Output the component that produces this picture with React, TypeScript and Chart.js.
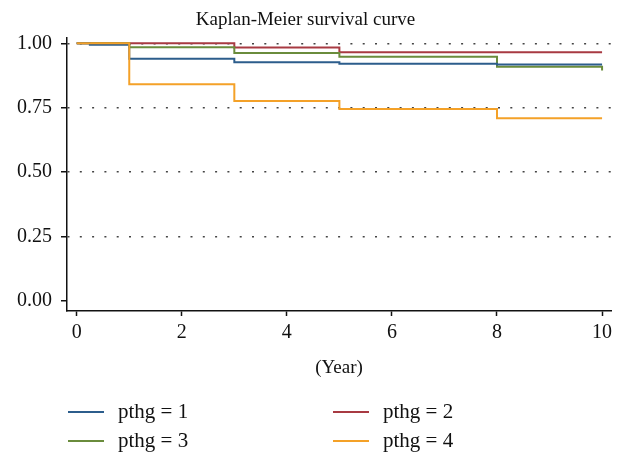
import React, { useEffect, useRef } from 'react';
import { Chart, registerables } from 'chart.js';

Chart.register(...registerables);

const TITLE = 'Kaplan-Meier survival curve';
const X_LABEL = '(Year)';
const X_TICKS = [0, 2, 4, 6, 8, 10];
const Y_TICKS = [0, 0.25, 0.5, 0.75, 1];
const Y_TICK_LABELS = ['0.00', '0.25', '0.50', '0.75', '1.00'];
const SERIES_LABELS = ['pthg = 1', 'pthg = 2', 'pthg = 3', 'pthg = 4'];
const SERIES_COLORS = ['#2c5d8c', '#a83a42', '#6a8c3c', '#f4a128'];

const PTHG1_T = [0, 0.25, 1, 3, 5, 8, 10];
const PTHG1_S = [1, 0.994, 0.94, 0.926, 0.921, 0.918, 0.918];
const PTHG2_T = [0, 3, 5, 10];
const PTHG2_S = [1, 0.984, 0.965, 0.965];
const PTHG3_T = [0, 1, 3, 5, 8, 10];
const PTHG3_S = [1, 0.985, 0.962, 0.948, 0.909, 0.894];
const PTHG4_T = [0, 1, 3, 5, 8, 10];
const PTHG4_S = [1, 0.841, 0.776, 0.745, 0.709, 0.709];

const SERIES_T = [PTHG1_T, PTHG2_T, PTHG3_T, PTHG4_T];
const SERIES_S = [PTHG1_S, PTHG2_S, PTHG3_S, PTHG4_S];
const DRAW_ORDER = [2, 4, 3, 1];

const FONT = '"Liberation Serif", "Times New Roman", serif';

const legendPlugin = {
  id: 'kmLegend',
  afterDraw(chart: any) {
    const ctx = chart.ctx;
    ctx.save();
    ctx.font = `21px ${FONT}`;
    ctx.textBaseline = 'middle';
    ctx.textAlign = 'left';
    ctx.fillStyle = '#111';
    chart.data.datasets.forEach((ds: any, i: number) => {
      const col = i % 2;
      const row = Math.floor(i / 2);
      const x = 68 + col * 265;
      const y = 412 + row * 29;
      ctx.strokeStyle = ds.borderColor;
      ctx.lineWidth = 2;
      ctx.beginPath();
      ctx.moveTo(x, y);
      ctx.lineTo(x + 36, y);
      ctx.stroke();
      ctx.fillText(ds.label, x + 50, y);
    });
    ctx.restore();
  },
};

export default function App() {
  const ref = useRef<HTMLCanvasElement | null>(null);

  useEffect(() => {
    document.body.style.margin = '0';
    const canvas = ref.current;
    if (!canvas) return;
    const datasets = SERIES_LABELS.map((label, k) => ({
      label,
      data: SERIES_T[k].map((t, i) => ({ x: t, y: SERIES_S[k][i] })),
      borderColor: SERIES_COLORS[k],
      backgroundColor: SERIES_COLORS[k],
      borderWidth: 2,
      pointRadius: 0,
      fill: false,
      stepped: 'before' as const,
      order: DRAW_ORDER[k],
    }));

    const chart = new Chart(canvas, {
      type: 'line',
      data: { datasets },
      plugins: [legendPlugin],
      options: {
        responsive: false,
        animation: false,
        layout: { padding: { left: 0, right: 14, top: 0, bottom: 80 } },
        plugins: {
          legend: { display: false },
          tooltip: { enabled: false },
          title: {
            display: true,
            text: TITLE,
            color: '#111',
            font: { family: FONT, size: 19, weight: 'normal' },
            padding: { top: 9, bottom: 6.2 },
          },
        },
        scales: {
          x: {
            type: 'linear',
            min: -0.185,
            max: 10.17,
            afterBuildTicks: (s: any) => {
              s.ticks = X_TICKS.map((v) => ({ value: v }));
            },
            afterFit: (s: any) => {
              s.height = 75;
            },
            ticks: {
              color: '#111',
              font: { family: FONT, size: 20 },
              padding: 5,
              maxRotation: 0,
              callback: (v: any) => String(v),
            },
            grid: {
              drawOnChartArea: false,
              drawTicks: true,
              tickLength: 5,
              tickColor: '#111',
              tickWidth: 1.5,
            },
            border: { display: true, color: '#111', width: 1.5 },
            title: {
              display: true,
              text: X_LABEL,
              color: '#111',
              font: { family: FONT, size: 19 },
              padding: { top: 0, bottom: 7 },
            },
          },
          y: {
            type: 'linear',
            min: -0.04,
            max: 1.0206,
            afterBuildTicks: (s: any) => {
              s.ticks = Y_TICKS.map((v) => ({ value: v }));
            },
            afterFit: (s: any) => {
              s.width = 67;
            },
            ticks: {
              color: '#111',
              font: { family: FONT, size: 20 },
              padding: 9,
              callback: (_v: any, i: number) => Y_TICK_LABELS[i],
            },
            grid: {
              color: (c: any) => (c.tick && c.tick.value === 0 ? 'rgba(0,0,0,0)' : '#444'),
              lineWidth: 1.5,
              drawTicks: true,
              tickLength: 6,
              tickColor: '#111',
              tickWidth: 1.5,
              tickBorderDash: [],
            },
            border: { display: true, color: '#111', width: 1.5, dash: [2, 10.3] },
          },
        },
      },
    });
    return () => chart.destroy();
  }, []);

  return (
    <div style={{ width: 625, height: 466, background: '#fff' }}>
      <canvas ref={ref} width={625} height={466} />
    </div>
  );
}
